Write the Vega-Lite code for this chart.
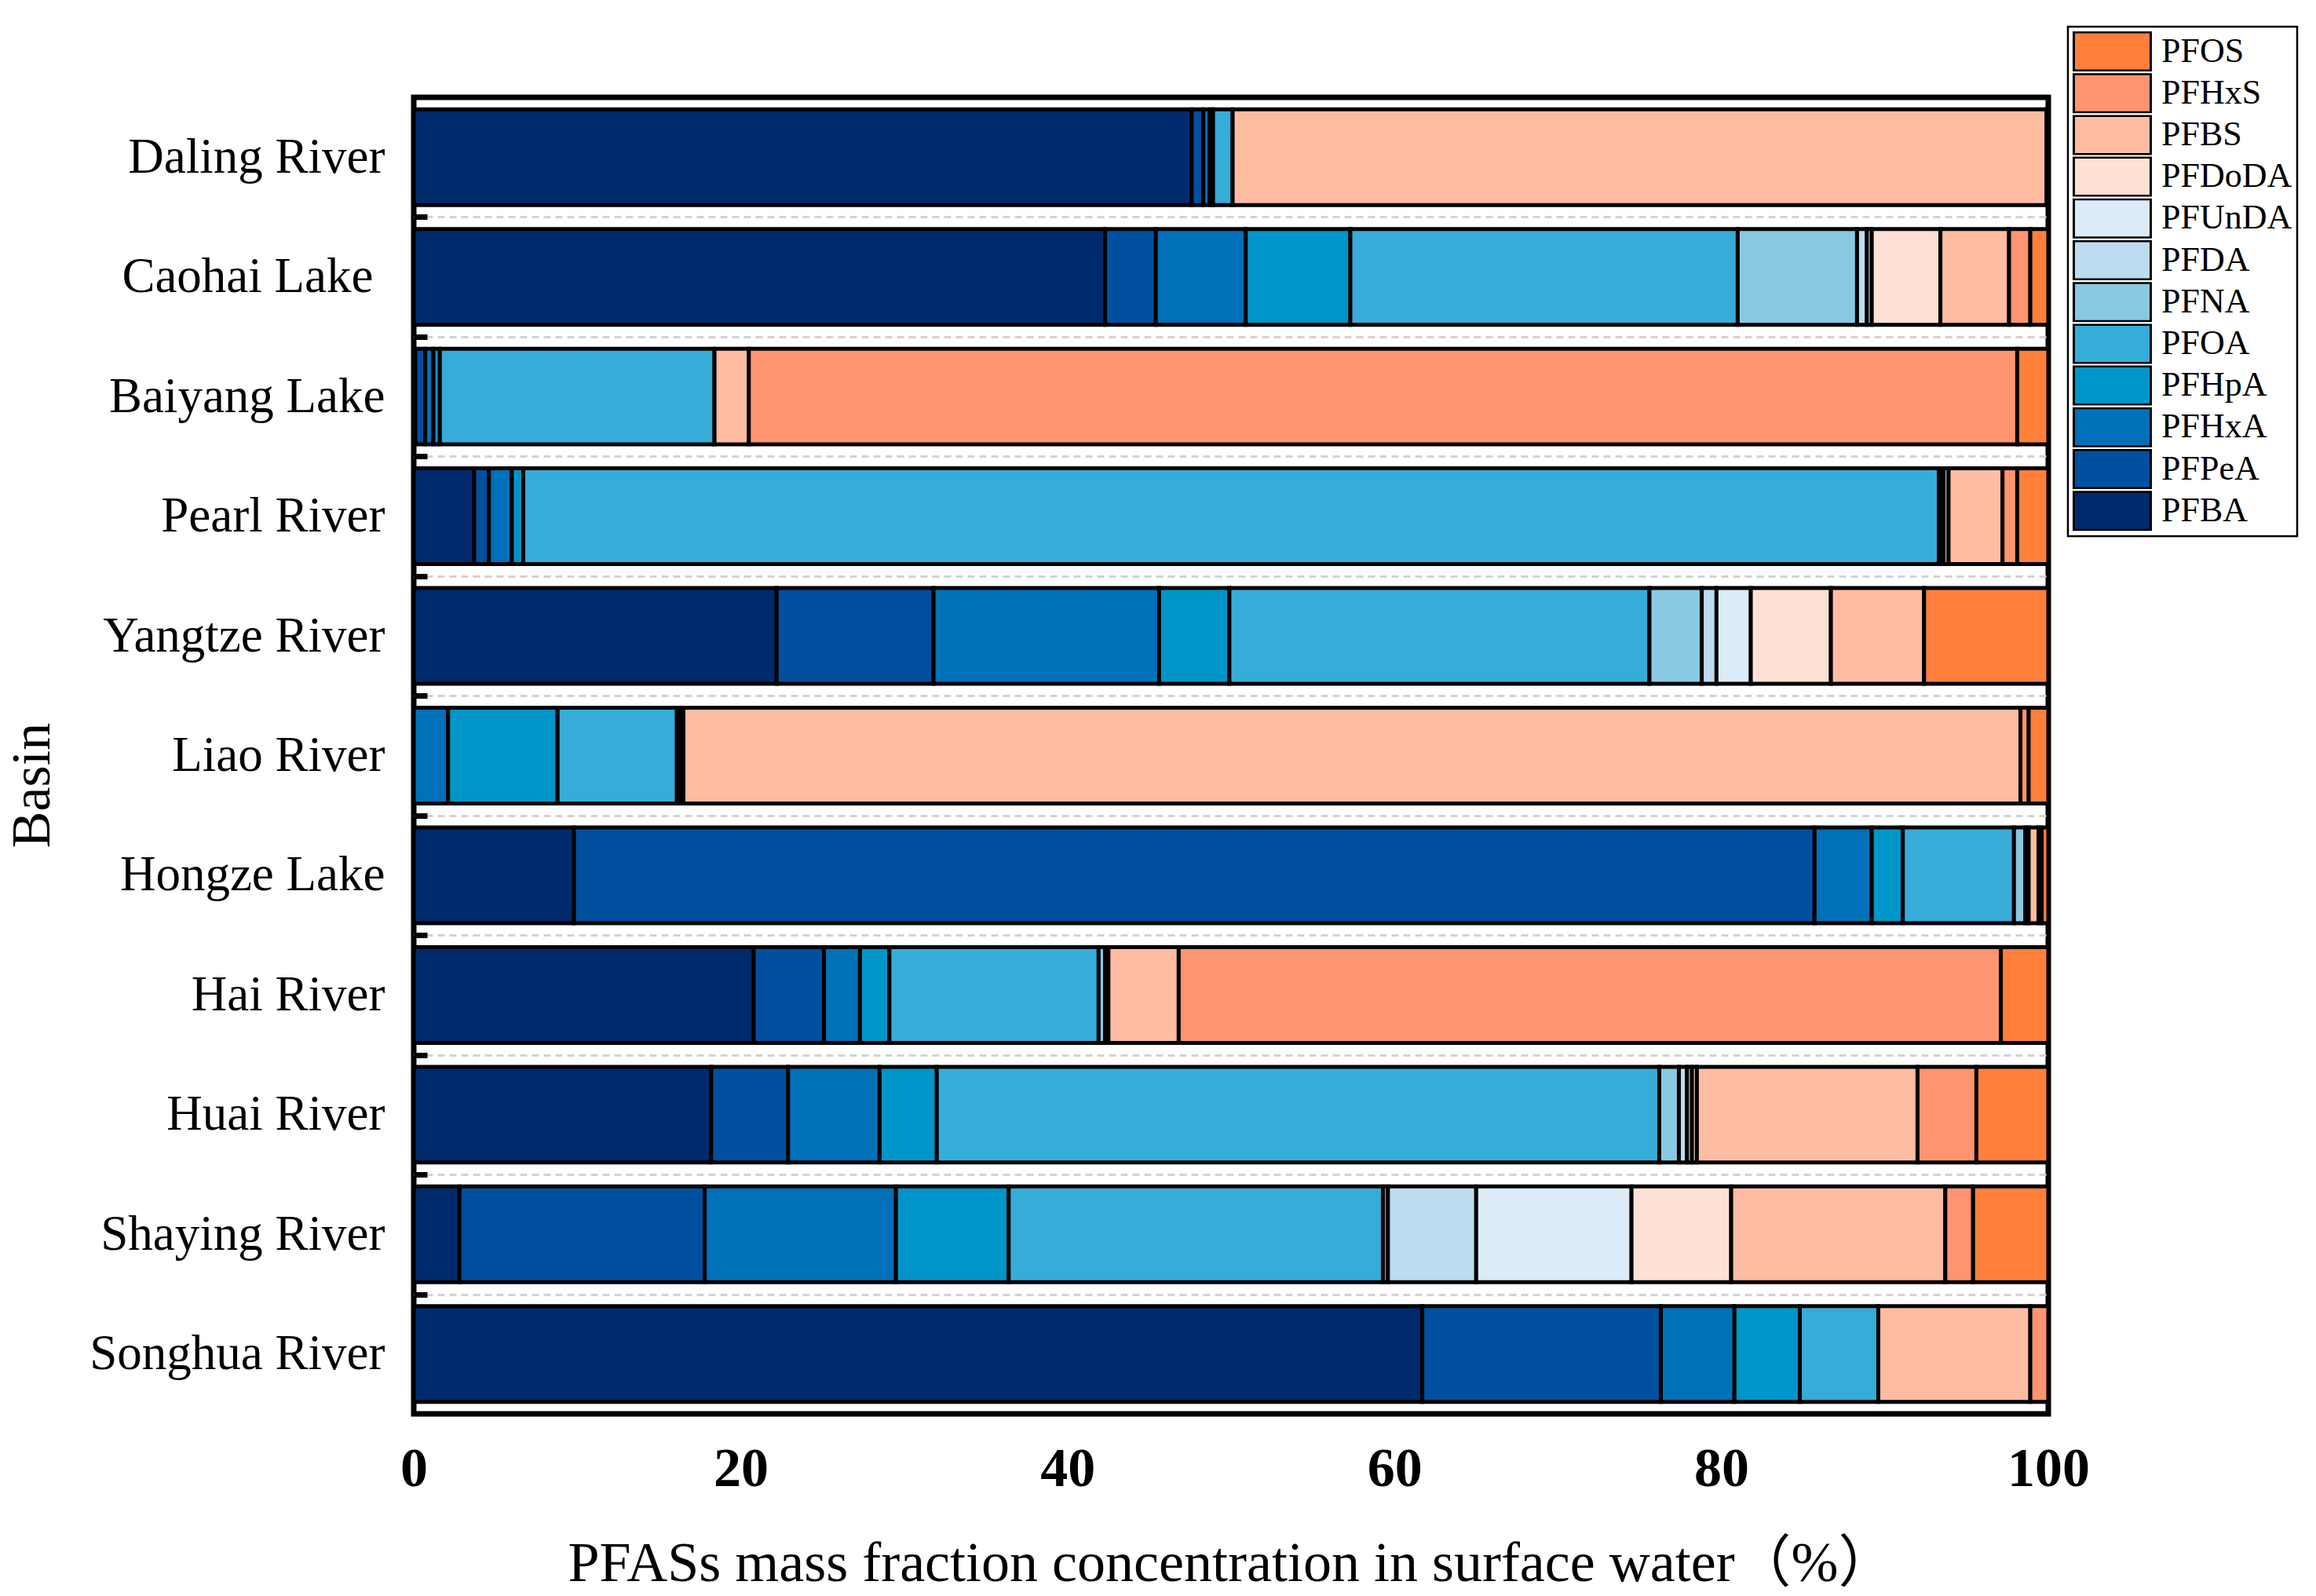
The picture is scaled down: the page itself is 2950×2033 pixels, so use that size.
{
  "$schema": "https://vega.github.io/schema/vega-lite/v6.json",
  "width": 2082,
  "height": 1677,
  "autosize": {"type": "none"},
  "padding": {"left": 527, "top": 124, "right": 341, "bottom": 232},
  "background": "white",
  "config": {"view": {"stroke": "black", "strokeWidth": 7}},
  "data": {"values": [
    {"basin": "Daling River", "compound": "PFBA", "value": 47.6, "k": 1},
    {"basin": "Daling River", "compound": "PFPeA", "value": 0.7, "k": 2},
    {"basin": "Daling River", "compound": "PFHxA", "value": 0.4, "k": 3},
    {"basin": "Daling River", "compound": "PFHpA", "value": 0.2, "k": 4},
    {"basin": "Daling River", "compound": "PFOA", "value": 1.2, "k": 5},
    {"basin": "Daling River", "compound": "PFBS", "value": 49.8, "k": 10},
    {"basin": "Daling River", "compound": "PFOS", "value": 0.1, "k": 12},

    {"basin": "Caohai Lake", "compound": "PFBA", "value": 42.3, "k": 1},
    {"basin": "Caohai Lake", "compound": "PFPeA", "value": 3.1, "k": 2},
    {"basin": "Caohai Lake", "compound": "PFHxA", "value": 5.5, "k": 3},
    {"basin": "Caohai Lake", "compound": "PFHpA", "value": 6.4, "k": 4},
    {"basin": "Caohai Lake", "compound": "PFOA", "value": 23.7, "k": 5},
    {"basin": "Caohai Lake", "compound": "PFNA", "value": 7.3, "k": 6},
    {"basin": "Caohai Lake", "compound": "PFDA", "value": 0.6, "k": 7},
    {"basin": "Caohai Lake", "compound": "PFUnDA", "value": 0.3, "k": 8},
    {"basin": "Caohai Lake", "compound": "PFDoDA", "value": 4.2, "k": 9},
    {"basin": "Caohai Lake", "compound": "PFBS", "value": 4.2, "k": 10},
    {"basin": "Caohai Lake", "compound": "PFHxS", "value": 1.3, "k": 11},
    {"basin": "Caohai Lake", "compound": "PFOS", "value": 1.1, "k": 12},

    {"basin": "Baiyang Lake", "compound": "PFBA", "value": 0.1, "k": 1},
    {"basin": "Baiyang Lake", "compound": "PFPeA", "value": 0.6, "k": 2},
    {"basin": "Baiyang Lake", "compound": "PFHxA", "value": 0.5, "k": 3},
    {"basin": "Baiyang Lake", "compound": "PFHpA", "value": 0.4, "k": 4},
    {"basin": "Baiyang Lake", "compound": "PFOA", "value": 16.8, "k": 5},
    {"basin": "Baiyang Lake", "compound": "PFBS", "value": 2.1, "k": 10},
    {"basin": "Baiyang Lake", "compound": "PFHxS", "value": 77.6, "k": 11},
    {"basin": "Baiyang Lake", "compound": "PFOS", "value": 1.9, "k": 12},

    {"basin": "Pearl River", "compound": "PFBA", "value": 3.7, "k": 1},
    {"basin": "Pearl River", "compound": "PFPeA", "value": 0.9, "k": 2},
    {"basin": "Pearl River", "compound": "PFHxA", "value": 1.4, "k": 3},
    {"basin": "Pearl River", "compound": "PFHpA", "value": 0.7, "k": 4},
    {"basin": "Pearl River", "compound": "PFOA", "value": 86.6, "k": 5},
    {"basin": "Pearl River", "compound": "PFNA", "value": 0.2, "k": 6},
    {"basin": "Pearl River", "compound": "PFDA", "value": 0.1, "k": 7},
    {"basin": "Pearl River", "compound": "PFDoDA", "value": 0.3, "k": 9},
    {"basin": "Pearl River", "compound": "PFBS", "value": 3.3, "k": 10},
    {"basin": "Pearl River", "compound": "PFHxS", "value": 0.9, "k": 11},
    {"basin": "Pearl River", "compound": "PFOS", "value": 1.9, "k": 12},

    {"basin": "Yangtze River", "compound": "PFBA", "value": 22.2, "k": 1},
    {"basin": "Yangtze River", "compound": "PFPeA", "value": 9.6, "k": 2},
    {"basin": "Yangtze River", "compound": "PFHxA", "value": 13.8, "k": 3},
    {"basin": "Yangtze River", "compound": "PFHpA", "value": 4.3, "k": 4},
    {"basin": "Yangtze River", "compound": "PFOA", "value": 25.7, "k": 5},
    {"basin": "Yangtze River", "compound": "PFNA", "value": 3.2, "k": 6},
    {"basin": "Yangtze River", "compound": "PFDA", "value": 0.9, "k": 7},
    {"basin": "Yangtze River", "compound": "PFUnDA", "value": 2.1, "k": 8},
    {"basin": "Yangtze River", "compound": "PFDoDA", "value": 4.9, "k": 9},
    {"basin": "Yangtze River", "compound": "PFBS", "value": 5.7, "k": 10},
    {"basin": "Yangtze River", "compound": "PFOS", "value": 7.6, "k": 12},

    {"basin": "Liao River", "compound": "PFHxA", "value": 2.1, "k": 3},
    {"basin": "Liao River", "compound": "PFHpA", "value": 6.7, "k": 4},
    {"basin": "Liao River", "compound": "PFOA", "value": 7.3, "k": 5},
    {"basin": "Liao River", "compound": "PFNA", "value": 0.2, "k": 6},
    {"basin": "Liao River", "compound": "PFDoDA", "value": 0.2, "k": 9},
    {"basin": "Liao River", "compound": "PFBS", "value": 81.8, "k": 10},
    {"basin": "Liao River", "compound": "PFHxS", "value": 0.5, "k": 11},
    {"basin": "Liao River", "compound": "PFOS", "value": 1.2, "k": 12},

    {"basin": "Hongze Lake", "compound": "PFBA", "value": 9.8, "k": 1},
    {"basin": "Hongze Lake", "compound": "PFPeA", "value": 75.9, "k": 2},
    {"basin": "Hongze Lake", "compound": "PFHxA", "value": 3.5, "k": 3},
    {"basin": "Hongze Lake", "compound": "PFHpA", "value": 1.9, "k": 4},
    {"basin": "Hongze Lake", "compound": "PFOA", "value": 6.8, "k": 5},
    {"basin": "Hongze Lake", "compound": "PFNA", "value": 0.7, "k": 6},
    {"basin": "Hongze Lake", "compound": "PFDoDA", "value": 0.2, "k": 9},
    {"basin": "Hongze Lake", "compound": "PFBS", "value": 0.6, "k": 10},
    {"basin": "Hongze Lake", "compound": "PFHxS", "value": 0.2, "k": 11},
    {"basin": "Hongze Lake", "compound": "PFOS", "value": 0.4, "k": 12},

    {"basin": "Hai River", "compound": "PFBA", "value": 20.8, "k": 1},
    {"basin": "Hai River", "compound": "PFPeA", "value": 4.3, "k": 2},
    {"basin": "Hai River", "compound": "PFHxA", "value": 2.2, "k": 3},
    {"basin": "Hai River", "compound": "PFHpA", "value": 1.8, "k": 4},
    {"basin": "Hai River", "compound": "PFOA", "value": 12.8, "k": 5},
    {"basin": "Hai River", "compound": "PFNA", "value": 0.4, "k": 6},
    {"basin": "Hai River", "compound": "PFDA", "value": 0.2, "k": 7},
    {"basin": "Hai River", "compound": "PFBS", "value": 4.3, "k": 10},
    {"basin": "Hai River", "compound": "PFHxS", "value": 50.3, "k": 11},
    {"basin": "Hai River", "compound": "PFOS", "value": 2.9, "k": 12},

    {"basin": "Huai River", "compound": "PFBA", "value": 18.2, "k": 1},
    {"basin": "Huai River", "compound": "PFPeA", "value": 4.7, "k": 2},
    {"basin": "Huai River", "compound": "PFHxA", "value": 5.6, "k": 3},
    {"basin": "Huai River", "compound": "PFHpA", "value": 3.5, "k": 4},
    {"basin": "Huai River", "compound": "PFOA", "value": 44.2, "k": 5},
    {"basin": "Huai River", "compound": "PFNA", "value": 1.2, "k": 6},
    {"basin": "Huai River", "compound": "PFDA", "value": 0.5, "k": 7},
    {"basin": "Huai River", "compound": "PFUnDA", "value": 0.3, "k": 8},
    {"basin": "Huai River", "compound": "PFDoDA", "value": 0.3, "k": 9},
    {"basin": "Huai River", "compound": "PFBS", "value": 13.5, "k": 10},
    {"basin": "Huai River", "compound": "PFHxS", "value": 3.6, "k": 11},
    {"basin": "Huai River", "compound": "PFOS", "value": 4.4, "k": 12},

    {"basin": "Shaying River", "compound": "PFBA", "value": 2.8, "k": 1},
    {"basin": "Shaying River", "compound": "PFPeA", "value": 15.0, "k": 2},
    {"basin": "Shaying River", "compound": "PFHxA", "value": 11.7, "k": 3},
    {"basin": "Shaying River", "compound": "PFHpA", "value": 6.9, "k": 4},
    {"basin": "Shaying River", "compound": "PFOA", "value": 22.9, "k": 5},
    {"basin": "Shaying River", "compound": "PFNA", "value": 0.3, "k": 6},
    {"basin": "Shaying River", "compound": "PFDA", "value": 5.4, "k": 7},
    {"basin": "Shaying River", "compound": "PFUnDA", "value": 9.5, "k": 8},
    {"basin": "Shaying River", "compound": "PFDoDA", "value": 6.1, "k": 9},
    {"basin": "Shaying River", "compound": "PFBS", "value": 13.1, "k": 10},
    {"basin": "Shaying River", "compound": "PFHxS", "value": 1.7, "k": 11},
    {"basin": "Shaying River", "compound": "PFOS", "value": 4.6, "k": 12},

    {"basin": "Songhua River", "compound": "PFBA", "value": 61.7, "k": 1},
    {"basin": "Songhua River", "compound": "PFPeA", "value": 14.6, "k": 2},
    {"basin": "Songhua River", "compound": "PFHxA", "value": 4.5, "k": 3},
    {"basin": "Songhua River", "compound": "PFHpA", "value": 4.0, "k": 4},
    {"basin": "Songhua River", "compound": "PFOA", "value": 4.8, "k": 5},
    {"basin": "Songhua River", "compound": "PFBS", "value": 9.3, "k": 10},
    {"basin": "Songhua River", "compound": "PFHxS", "value": 1.1, "k": 11}
  ]},
  "mark": {"type": "bar", "stroke": "black", "strokeWidth": 5},
  "encoding": {
    "y": {
      "field": "basin",
      "type": "nominal",
      "sort": ["Daling River", "Caohai Lake", "Baiyang Lake", "Pearl River", "Yangtze River", "Liao River", "Hongze Lake", "Hai River", "Huai River", "Shaying River", "Songhua River"],
      "scale": {"paddingInner": 0.2, "paddingOuter": 0.1},
      "axis": {
        "values": ["Daling River", "Caohai Lake", "Baiyang Lake", "Pearl River", "Yangtze River", "Liao River", "Hongze Lake", "Hai River", "Huai River", "Shaying River", "Songhua River"],
        "title": "Basin",
        "titleFont": "Liberation Serif",
        "titleFontSize": 70,
        "titleFontWeight": "normal",
        "titleColor": "black",
        "titleX": -465,
        "titleY": 876,
        "titleAngle": -90,
        "titleAlign": "center",
        "titleBaseline": "alphabetic",
        "labelFont": "Liberation Serif",
        "labelFontSize": 63,
        "labelColor": "black",
        "labelPadding": {"condition": {"test": "datum.value === 'Caohai Lake'", "value": 69}, "value": 54},
        "labelLimit": 0,
        "domain": false,
        "ticks": true,
        "tickSize": -17,
        "tickWidth": 7,
        "tickColor": "black",
        "tickOpacity": {"condition": {"test": "datum.value === 'Songhua River'", "value": 0}, "value": 1},
        "bandPosition": 1,
        "tickOffset": 15.25,
        "labelOffset": -15.25,
        "grid": true,
        "gridColor": "#d3d3d3",
        "gridWidth": 3,
        "gridDash": [9, 6],
        "gridOpacity": {"condition": {"test": "datum.value === 'Songhua River'", "value": 0}, "value": 1}
      }
    },
    "x": {
      "field": "value",
      "type": "quantitative",
      "stack": "zero",
      "scale": {"domain": [0, 100], "nice": false},
      "axis": {
        "title": "PFASs mass fraction concentration in surface water（%）",
        "values": [0, 20, 40, 60, 80, 100],
        "grid": false,
        "domain": false,
        "ticks": false,
        "tickSize": 0,
        "labelFont": "Liberation Serif",
        "labelFontWeight": "bold",
        "labelFontSize": 70,
        "labelColor": "black",
        "labelPadding": 36,
        "labelFlush": false,
        "labelOverlap": false,
        "titleFont": "Liberation Serif, Noto Sans CJK SC",
        "titleFontSize": 72,
        "titleFontWeight": "normal",
        "titleColor": "black",
        "titleY": 212,
        "titleBaseline": "alphabetic"
      }
    },
    "color": {
      "field": "compound",
      "type": "nominal",
      "scale": {
        "domain": ["PFOS", "PFHxS", "PFBS", "PFDoDA", "PFUnDA", "PFDA", "PFNA", "PFOA", "PFHpA", "PFHxA", "PFPeA", "PFBA"],
        "range": ["#FF7F3B", "#FF9470", "#FEBCA2", "#FEE1D4", "#DBEBF7", "#BEDCEF", "#89C9E2", "#36ACD8", "#0095C8", "#0070B8", "#00509F", "#002A6C"]
      },
      "legend": {
        "title": null,
        "orient": "none",
        "legendX": 2107,
        "legendY": -90,
        "symbolType": "M-1,-0.5H1V0.5H-1Z",
        "symbolSize": 9604,
        "symbolStrokeColor": "black",
        "symbolStrokeWidth": 3,
        "symbolOpacity": 1,
        "clipHeight": 51,
        "rowPadding": 2.2,
        "labelFont": "Liberation Serif",
        "labelFontSize": 44,
        "labelColor": "black",
        "labelOffset": 12,
        "labelLimit": 0,
        "padding": 6,
        "strokeColor": "black",
        "fillColor": "white",
        "encode": {"legend": {"update": {"stroke": {"value": "black"}, "strokeWidth": {"value": 2.5}}}}
      }
    },
    "order": {"field": "k", "type": "quantitative"}
  }
}
